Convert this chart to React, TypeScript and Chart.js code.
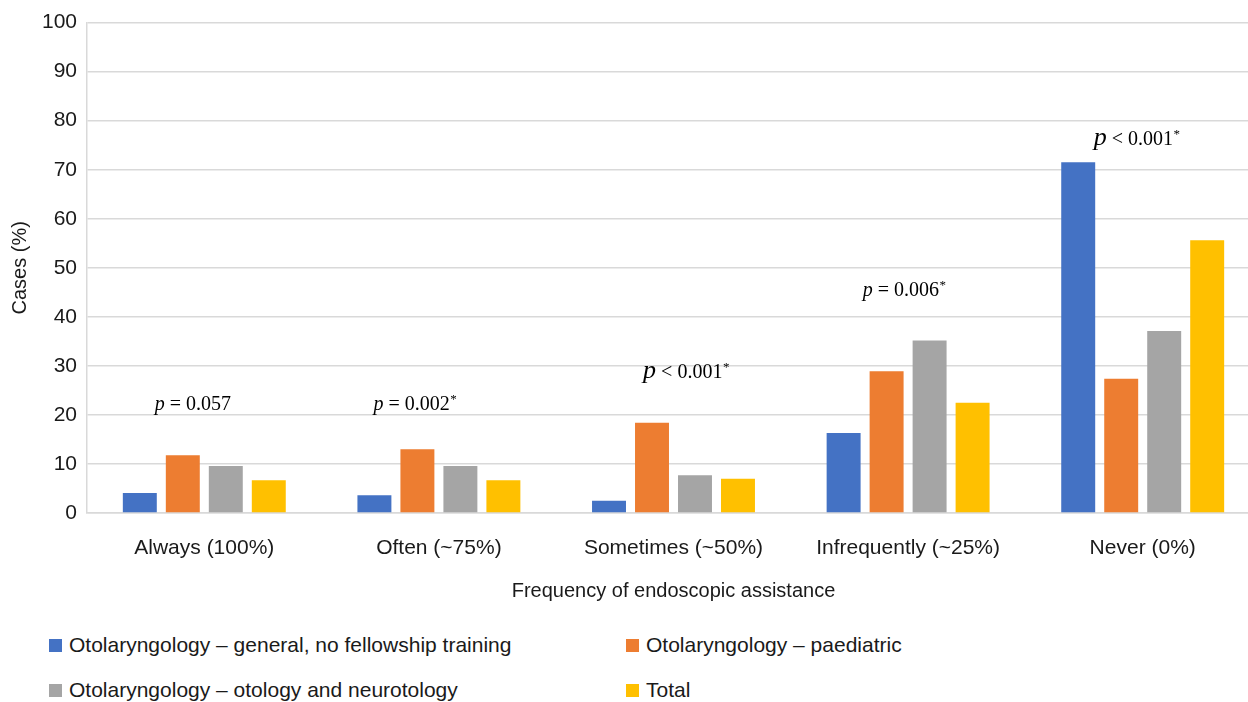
import React, { useEffect, useRef } from "react";
import { Chart, registerables } from "chart.js";

Chart.register(...registerables);

const categories = [
  "Always (100%)",
  "Often (~75%)",
  "Sometimes (~50%)",
  "Infrequently (~25%)",
  "Never (0%)",
];

const seriesNames = [
  "Otolaryngology – general, no fellowship training",
  "Otolaryngology – paediatric",
  "Otolaryngology – otology and neurotology",
  "Total",
];

const generalValues = [4.1, 3.6, 2.5, 16.3, 71.5];
const paediatricValues = [11.8, 13.0, 18.4, 28.9, 27.4];
const otologyValues = [9.6, 9.6, 7.7, 35.2, 37.1];
const totalValues = [6.7, 6.7, 7.0, 22.5, 55.6];

const seriesColors = ["#4472C4", "#ED7D31", "#A5A5A5", "#FFC000"];

const yTicks = [0, 10, 20, 30, 40, 50, 60, 70, 80, 90, 100];

// p-value annotations
const pOperators = ["=", "=", "<", "=", "<"];
const pValues = ["0.057", "0.002", "0.001", "0.006", "0.001"];
const pSignificant = [false, true, true, true, true];
const pLevels = [21.0, 21.0, 27.5, 44.3, 75.1];
const pLargeP = [false, false, true, false, true];
const pOffsetsPx = [-11.5, -24, 12.5, -4, -6];

const pValuePlugin = {
  id: "pValues",
  afterDatasetsDraw(chart: any) {
    const { ctx, scales } = chart;
    const x = scales.x;
    const y = scales.y;
    pValues.forEach((val, i) => {
      const cx = x.getPixelForValue(i) + pOffsetsPx[i];
      const by = y.getPixelForValue(pLevels[i]);
      const pSize = pLargeP[i] ? 26 : 20;
      const pFont = `italic ${pSize}px "Liberation Serif", "DejaVu Serif", serif`;
      const mainFont = `20px "Liberation Serif", "DejaVu Serif", serif`;
      const starFont = `13px "Liberation Serif", "DejaVu Serif", serif`;
      const main = ` ${pOperators[i]} ${val}`;
      ctx.save();
      ctx.textBaseline = "alphabetic";
      ctx.textAlign = "left";
      ctx.fillStyle = "#000";
      ctx.font = pFont;
      const wp = ctx.measureText("p").width;
      ctx.font = mainFont;
      const wm = ctx.measureText(main).width;
      ctx.font = starFont;
      const ws = pSignificant[i] ? ctx.measureText("*").width : 0;
      let sx = cx - (wp + wm + ws) / 2;
      ctx.font = pFont;
      ctx.fillText("p", sx, by);
      sx += wp;
      ctx.font = mainFont;
      ctx.fillText(main, sx, by);
      sx += wm;
      if (pSignificant[i]) {
        ctx.font = starFont;
        ctx.fillText("*", sx + 0.5, by - 7);
      }
      ctx.restore();
    });
  },
};

export default function App() {
  const canvasRef = useRef<HTMLCanvasElement | null>(null);

  useEffect(() => {
    if (!canvasRef.current) return;
    const valueSets = [generalValues, paediatricValues, otologyValues, totalValues];
    const chart = new Chart(canvasRef.current, {
      type: "bar",
      data: {
        labels: categories,
        datasets: seriesNames.map((name, i) => ({
          label: name,
          data: valueSets[i],
          backgroundColor: seriesColors[i],
          borderWidth: 0,
          categoryPercentage: 0.733,
          barPercentage: 0.79,
        })),
      },
      options: {
        responsive: false,
        animation: false,
        devicePixelRatio: 1,
        layout: { padding: { top: 18, right: 2, left: 0, bottom: 0 } },
        plugins: {
          legend: { display: false },
          tooltip: { enabled: false },
          title: { display: false },
        },
        scales: {
          x: {
            grid: { display: false, drawTicks: false },
            border: { display: true, color: "#d9d9d9", width: 1.5 },
            ticks: {
              padding: 23,
              color: "#1a1a1a",
              font: { family: '"Liberation Sans", Arial, sans-serif', size: 21 },
              maxRotation: 0,
              autoSkip: false,
            },
            title: {
              display: true,
              text: "Frequency of endoscopic assistance",
              color: "#1a1a1a",
              font: { family: '"Liberation Sans", Arial, sans-serif', size: 20 },
              padding: { top: 0, bottom: 12 },
            },
            afterFit(scale: any) {
              scale.height = 102;
            },
          },
          y: {
            min: 0,
            max: 100,
            afterBuildTicks(scale: any) {
              scale.ticks = yTicks.map((v) => ({ value: v }));
            },
            grid: { color: "#d9d9d9", lineWidth: 1.5, drawTicks: false },
            border: { display: true, color: "#d9d9d9", width: 1.5 },
            ticks: {
              padding: 10,
              color: "#1a1a1a",
              font: { family: '"Liberation Sans", Arial, sans-serif', size: 21 },
            },
            title: {
              display: true,
              text: "Cases (%)",
              color: "#1a1a1a",
              font: { family: '"Liberation Sans", Arial, sans-serif', size: 20 },
              padding: { top: 8, bottom: 0 },
            },
            afterFit(scale: any) {
              scale.width = 87;
            },
          },
        },
      },
      plugins: [pValuePlugin],
    });
    return () => chart.destroy();
  }, []);

  const legendFont: React.CSSProperties = {
    fontFamily: '"Liberation Sans", Arial, sans-serif',
    fontSize: 21,
    color: "#1a1a1a",
    whiteSpace: "nowrap",
    lineHeight: "24px",
  };
  const legendPositions = [
    { left: 49, top: 633 },
    { left: 626, top: 633 },
    { left: 49, top: 678 },
    { left: 626, top: 678 },
  ];

  return (
    <div
      style={{
        position: "fixed",
        left: 0,
        top: 0,
        width: 1248,
        height: 702,
        overflow: "hidden",
        background: "#fff",
      }}
    >
      <canvas ref={canvasRef} width={1262} height={615} style={{ display: "block" }} />
      {seriesNames.map((name, i) => (
        <div
          key={name}
          style={{
            position: "absolute",
            left: legendPositions[i].left,
            top: legendPositions[i].top,
            display: "flex",
            alignItems: "center",
            ...legendFont,
          }}
        >
          <span
            style={{
              display: "inline-block",
              width: 13,
              height: 13,
              background: seriesColors[i],
              marginRight: 7,
            }}
          />
          <span>{name}</span>
        </div>
      ))}
    </div>
  );
}
